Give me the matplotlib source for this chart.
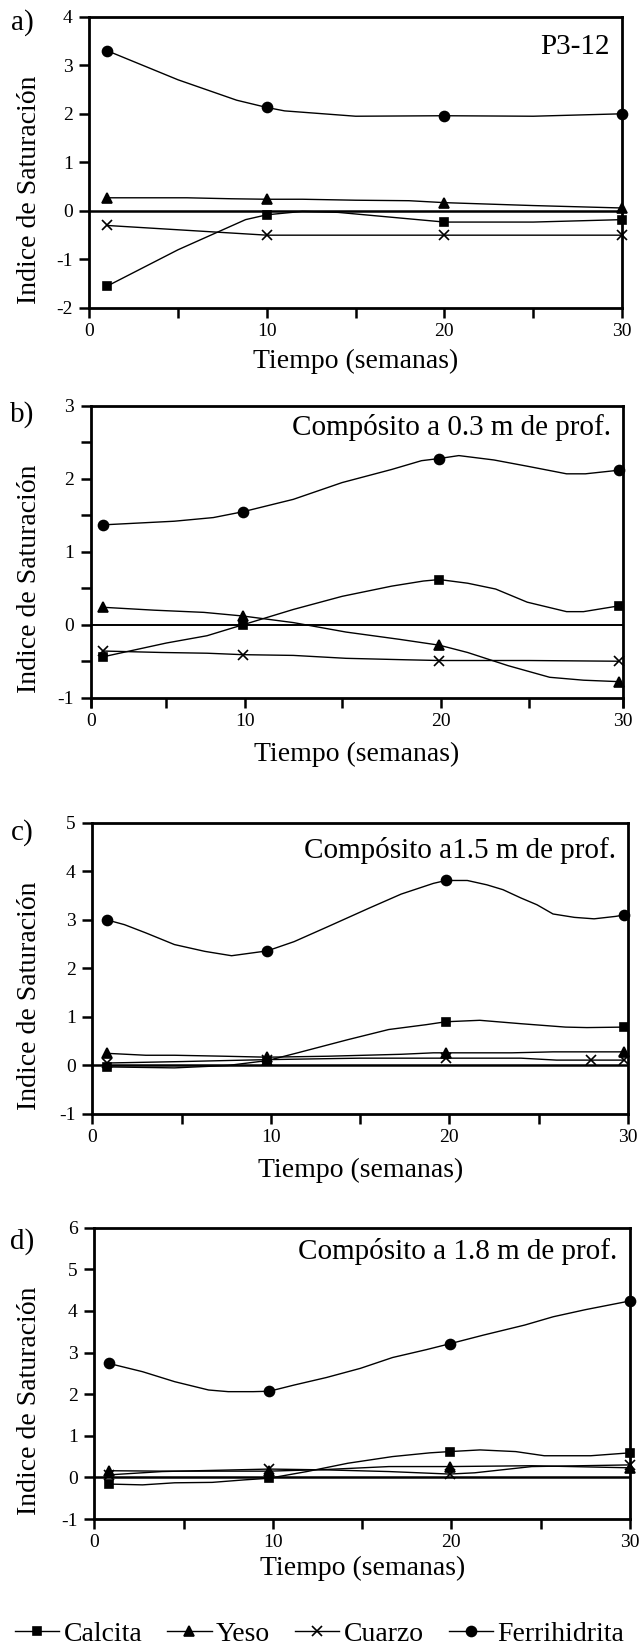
import numpy as np
import matplotlib
matplotlib.use("Agg")
import matplotlib.pyplot as plt
import matplotlib.transforms as mtransforms
from matplotlib.ticker import MultipleLocator, FuncFormatter

plt.rcParams['font.family'] = ['Liberation Serif', 'DejaVu Serif']

# ---- data (weeks vs saturation index) ----
names = ['Calcita', 'Yeso', 'Cuarzo', 'Ferrihidrita']

# a) P3-12
a_weeks = [1, 10, 20, 30]
a_cal_x = [1, 5, 8.8, 10, 12, 14, 17, 20, 25, 30]
a_cal_y = [-1.55, -0.8, -0.18, -0.08, -0.01, -0.03, -0.13, -0.23, -0.23, -0.18]
a_yes_x = [1, 5.5, 8, 10, 12, 15, 18, 20, 25, 30]
a_yes_y = [0.27, 0.27, 0.25, 0.24, 0.24, 0.22, 0.21, 0.17, 0.11, 0.06]
a_cua_x = [1, 10, 20, 30]
a_cua_y = [-0.3, -0.5, -0.5, -0.5]
a_fer_x = [1, 5, 8.3, 10, 11, 15, 20, 25, 30]
a_fer_y = [3.3, 2.7, 2.28, 2.13, 2.06, 1.95, 1.96, 1.95, 2.0]

# b) 0.3 m
b_weeks = [0.8, 9.9, 19.9, 29.8]
b_cal_x = [0.8, 5, 7.6, 9.9, 12.5, 15, 17.5, 19.1, 19.9, 21.5, 23.1, 24.9, 27, 27.9, 29.8]
b_cal_y = [-0.44, -0.25, -0.15, 0.0, 0.21, 0.39, 0.53, 0.60, 0.62, 0.57, 0.49, 0.31, 0.18, 0.18, 0.26]
b_yes_x = [0.8, 4.2, 7.4, 9.9, 12.5, 15.2, 17.9, 19.9, 21.5, 23.8, 26.1, 27.9, 29.8]
b_yes_y = [0.24, 0.20, 0.17, 0.12, 0.03, -0.10, -0.20, -0.28, -0.38, -0.56, -0.72, -0.76, -0.78]
b_cua_x = [0.8, 4.7, 7.6, 9.9, 12.5, 15.2, 18.2, 19.9, 25, 29.8]
b_cua_y = [-0.36, -0.38, -0.39, -0.41, -0.42, -0.46, -0.48, -0.49, -0.49, -0.50]
b_fer_x = [0.8, 5.5, 8, 9.9, 12.5, 15, 17.5, 19, 19.9, 21, 23, 25, 27, 28, 29.8]
b_fer_y = [1.37, 1.42, 1.47, 1.55, 1.72, 1.95, 2.13, 2.25, 2.28, 2.32, 2.26, 2.17, 2.07, 2.07, 2.12]

# c) 1.5 m  (cuarzo also has a sample near week 28)
c_weeks = [0.8, 9.8, 19.8, 27.9, 29.8]
c_cal_x = [0.8, 4.6, 7.6, 9.8, 11.5, 14.3, 16.6, 18.7, 19.8, 21.7, 24, 26.5, 27.7, 29.8]
c_cal_y = [-0.03, -0.05, 0.0, 0.1, 0.26, 0.53, 0.74, 0.84, 0.90, 0.93, 0.86, 0.79, 0.78, 0.79]
c_yes_x = [0.8, 3.0, 4.6, 7.4, 9.8, 13.2, 17.3, 19.1, 19.8, 23.5, 25.8, 29.8]
c_yes_y = [0.25, 0.21, 0.21, 0.19, 0.17, 0.19, 0.23, 0.26, 0.26, 0.26, 0.28, 0.28]
c_cua_x = [0.8, 5, 9.8, 15, 19.8, 24, 26, 27.9, 29.8]
c_cua_y = [0.05, 0.08, 0.12, 0.15, 0.15, 0.15, 0.11, 0.11, 0.11]
c_fer_x = [0.8, 1.8, 3.0, 4.6, 6.3, 7.8, 9.0, 9.8, 11.3, 13.2, 15.5, 17.3, 19.1, 19.8,
           21, 22.1, 23, 24, 24.9, 25.8, 27, 28.1, 29.3, 29.8]
c_fer_y = [3.0, 2.9, 2.73, 2.49, 2.35, 2.26, 2.32, 2.36, 2.55, 2.86, 3.24, 3.53, 3.75, 3.81,
           3.81, 3.72, 3.62, 3.45, 3.31, 3.12, 3.05, 3.02, 3.07, 3.10]

# d) 1.8 m
d_weeks = [0.8, 9.8, 19.9, 30]
d_cal_x = [0.8, 2.7, 4.5, 6.6, 8.4, 9.8, 11.9, 14.2, 16.7, 18.8, 19.9, 21.6, 23.6, 25.2, 27.8, 30]
d_cal_y = [-0.16, -0.18, -0.13, -0.12, -0.06, -0.02, 0.14, 0.34, 0.50, 0.59, 0.62, 0.66, 0.62, 0.52, 0.52, 0.59]
d_yes_x = [0.8, 3.8, 9.8, 13, 16.5, 19.9, 24.5, 30]
d_yes_y = [0.16, 0.15, 0.15, 0.19, 0.26, 0.26, 0.28, 0.23]
d_cua_x = [0.8, 3.8, 9.8, 13, 16.5, 19.9, 21.3, 24.5, 30]
d_cua_y = [0.06, 0.14, 0.2, 0.18, 0.14, 0.08, 0.11, 0.26, 0.30]
d_fer_x = [0.8, 2.7, 4.5, 6.4, 7.5, 8.9, 9.8, 11.2, 13, 14.9, 16.7, 18.6, 19.9, 21.8, 24.1, 25.7, 27.5, 30]
d_fer_y = [2.74, 2.54, 2.30, 2.10, 2.06, 2.06, 2.07, 2.22, 2.40, 2.62, 2.88, 3.07, 3.21, 3.42, 3.66, 3.86, 4.03, 4.24]

titles = ['P3-12', 'Compósito a 0.3 m de prof.', 'Compósito a1.5 m de prof.', 'Compósito a 1.8 m de prof.']
letters = ['a)', 'b)', 'c)', 'd)']
ylims = [(-2, 4), (-1, 3), (-1, 5), (-1, 6)]

panels = [
    (a_weeks, [(a_cal_x, a_cal_y), (a_yes_x, a_yes_y), (a_cua_x, a_cua_y), (a_fer_x, a_fer_y)]),
    (b_weeks, [(b_cal_x, b_cal_y), (b_yes_x, b_yes_y), (b_cua_x, b_cua_y), (b_fer_x, b_fer_y)]),
    (c_weeks, [(c_cal_x, c_cal_y), (c_yes_x, c_yes_y), (c_cua_x, c_cua_y), (c_fer_x, c_fer_y)]),
    (d_weeks, [(d_cal_x, d_cal_y), (d_yes_x, d_yes_y), (d_cua_x, d_cua_y), (d_fer_x, d_fer_y)]),
]

# ---- layout (pixels in a 639x1652 canvas) ----
W, H = 639, 1652
boxes = [(89.3, 622, 16.7, 308), (90.7, 623, 406, 697.7),
         (92.3, 628, 822.7, 1114), (94.3, 630, 1227.7, 1519)]
title_y = [0.896, 0.925, 0.906, 0.917]
letter_y = [23, 415, 833, 1242]
xlabel_y = [361, 754, 1170, 1568]

markers = ['s', '^', 'x', 'o']
msizes = [6.4, 7.4, 7.5, 7.2]

# the x axis of panel b is unevenly spaced in the original scan
b_ticks = [0, 5, 10, 15, 20, 25, 30]
b_pos = [0, 4.27, 8.67, 14.17, 19.76, 24.70, 30]


def b_fwd(v):
    return np.interp(v, b_ticks, b_pos)


def b_inv(v):
    return np.interp(v, b_pos, b_ticks)


fig = plt.figure(figsize=(W / 100, H / 100), dpi=100)

for k, (weeks, series) in enumerate(panels):
    L, R, T, B = boxes[k]
    ax = fig.add_axes([L / W, 1 - B / H, (R - L) / W, (B - T) / H])
    if k == 1:
        ax.set_xscale('function', functions=(b_fwd, b_inv))
    for j, (xs, ys) in enumerate(series):
        idx = [i for i, v in enumerate(xs) if v in weeks]
        ax.plot(xs, ys, color='black', lw=1.0, marker=markers[j], ms=msizes[j],
                mew=1.2, markevery=idx, clip_on=False, label=names[j])
    ax.axhline(0, color='black', lw=1.8 if k != 1 else 1.4, zorder=1)

    ax.set_xlim(0, 30)
    ax.set_ylim(*ylims[k])
    ax.xaxis.set_major_locator(MultipleLocator(5))
    ax.xaxis.set_major_formatter(FuncFormatter(lambda v, p: f'{v:.0f}' if round(v) % 10 == 0 else ''))
    ax.xaxis.set_minor_locator(plt.NullLocator())
    if k == 1:
        ax.yaxis.set_major_locator(MultipleLocator(0.5))
        ax.yaxis.set_major_formatter(FuncFormatter(lambda v, p: f'{v:.0f}' if abs(v - round(v)) < 1e-6 else ''))
    else:
        ax.yaxis.set_major_locator(MultipleLocator(1))
        ax.yaxis.set_major_formatter(FuncFormatter(lambda v, p: f'{v:.0f}'))
    ax.tick_params(direction='out', length=7, width=1.8, labelsize=14, pad=4)
    ax.tick_params(axis='y', pad=5)
    for s in ax.spines.values():
        s.set_linewidth(2.0)

    ax.text(0.977, title_y[k], titles[k], transform=ax.transAxes, ha='right', va='center', fontsize=21)
    fig.text(22.5 / W, 1 - letter_y[k] / H, letters[k], ha='center', va='center', fontsize=21)

    ax.set_ylabel('Indice de Saturación', fontsize=20)
    ax.yaxis.set_label_coords(42 / W, 0.407,
                              transform=mtransforms.blended_transform_factory(fig.transFigure, ax.transAxes))
    ax.set_xlabel('Tiempo (semanas)', fontsize=20, va='center')
    ax.xaxis.set_label_coords(0.5, 1 - xlabel_y[k] / H,
                              transform=mtransforms.blended_transform_factory(ax.transAxes, fig.transFigure))

handles, labels = ax.get_legend_handles_labels()
fig.legend(handles, labels, loc='center', bbox_to_anchor=(0.5, 1 - 1634 / H), ncol=4, frameon=False,
           fontsize=20, handlelength=1.6, handletextpad=0.15, columnspacing=0.9, markerscale=1.0,
           borderpad=0, borderaxespad=0)

fig.savefig('out.png', dpi=100)
